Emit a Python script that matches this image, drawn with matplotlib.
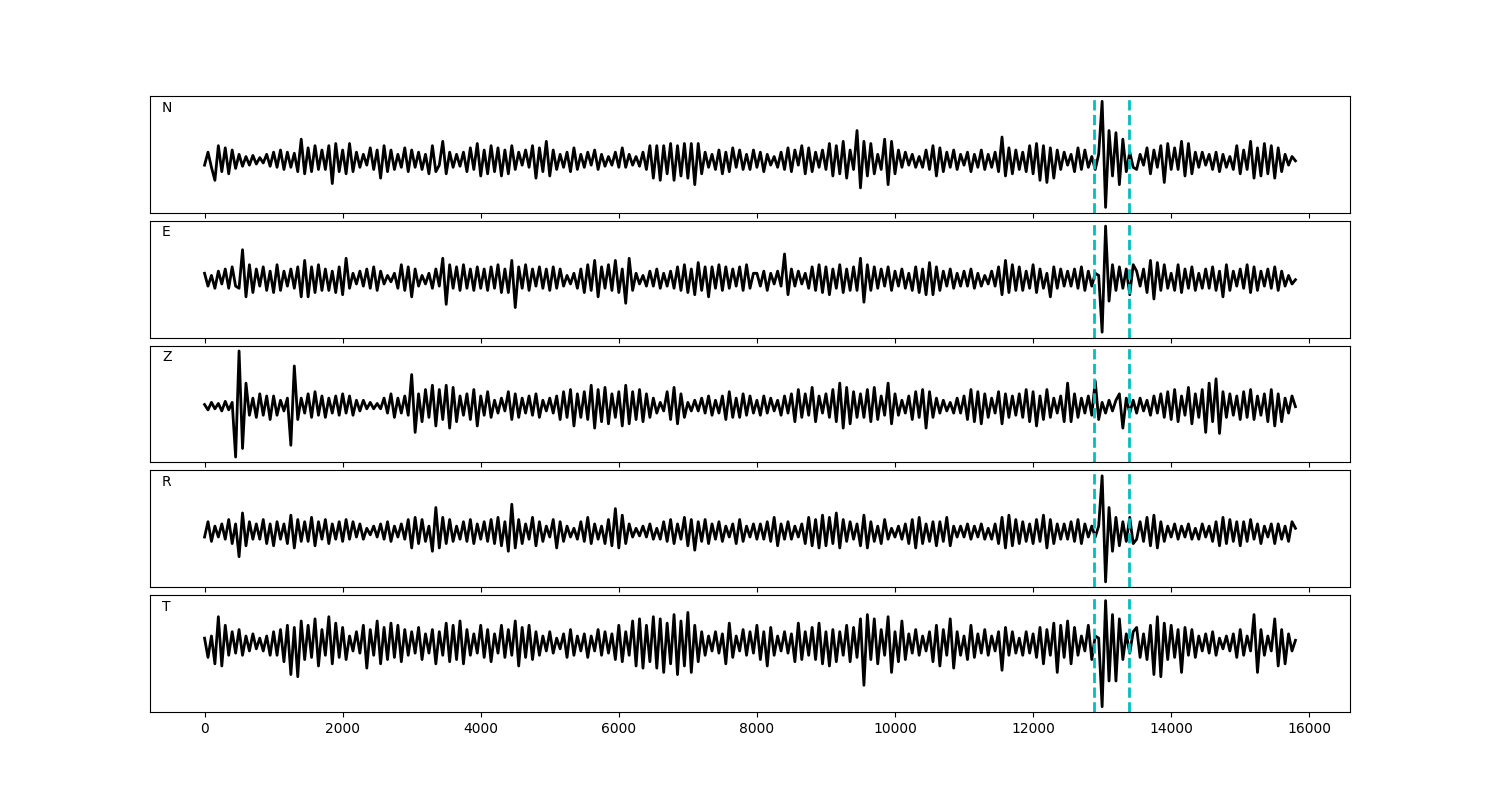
import numpy as np
import matplotlib
matplotlib.use("Agg")
import matplotlib.pyplot as plt

# sample spacing of the traces (time units)
dt = 50

component_labels = ["N", "E", "Z", "R", "T"]
window_start = 12880
window_end = 13385

trace_N = [
    -4, 8, -6, -18, 14, -10, 12, -12, 10, -7,
    6, -5, 4, -4, 5, -3, 3, -2, 6, -5,
    8, -6, 10, -8, 8, -6, 7, -10, 20, -12,
    12, -10, 14, -8, 10, -8, 14, -21, 16, -10,
    10, -12, 16, -10, 8, -6, 6, -4, 12, -8,
    10, -16, 14, -10, 10, -8, 6, -6, 12, -10,
    10, -6, 8, -8, 6, -12, 14, -10, -4, 18,
    -12, 8, -6, 6, -5, 8, -10, 12, -8, 16,
    -14, 10, -12, 14, -10, 12, -14, 10, -12, 14,
    -8, 8, -4, 10, -6, 14, -16, 12, -10, 18,
    -14, 10, -8, 6, -6, 8, -10, 12, -8, 6,
    -6, 8, -4, 10, -8, 6, -5, 4, -4, 8,
    -6, 12, -6, 6, -4, 4, -5, 8, -8, 14,
    -16, 14, -18, 14, -12, 16, -18, 14, -14, 16,
    -16, 16, -22, 16, -12, 8, -6, 6, -8, 10,
    -12, 8, -10, 12, -6, 10, -8, 6, -8, 10,
    -6, 8, -10, 6, -4, 4, -6, 8, -8, 12,
    -10, 10, -4, 14, -12, 12, -10, 8, -6, 10,
    -8, 16, -14, 14, -12, 18, -16, 10, -8, 28,
    -25, 18, -14, 16, -12, 6, -8, 20, -22, 18,
    -12, 10, -6, 8, -4, 6, -6, 4, -6, 10,
    -8, 14, -14, 12, -10, 8, -6, 10, -8, 6,
    -4, 8, -10, 6, -6, 10, -8, 6, -6, 8,
    -10, 22, -14, 12, -12, 10, -8, 8, -10, 14,
    -12, 16, -18, 14, -20, 12, -16, 10, -8, 8,
    -4, 6, -10, 12, -8, 10, -6, 4, -8, 6,
    55, -43, 28, -14, 26, -22, 20, -10, 8, -6,
    -8, 6, -4, 12, -12, 10, -6, 14, -20, 16,
    -8, 12, -8, 18, -14, 16, -12, 8, -6, 8,
    -4, 6, -8, 8, -10, 6, -6, 4, -8, 14,
    -12, 10, -8, 18, -16, 12, -14, 16, -12, 14,
    -16, 12, -10, 6, -4, 4, 0,
]

trace_E = [
    6, -6, 4, -8, 8, -4, 10, -8, 12, -6,
    -8, 28, -16, 14, -12, 10, -6, 12, -10, 8,
    -12, 14, -10, 8, -6, 10, -8, 12, -16, 18,
    -16, 12, -12, 14, -10, 10, -10, 8, -12, 12,
    -14, 20, -8, 6, -4, 8, -6, 10, -8, 12,
    -10, 8, -4, 4, -2, 6, -8, 14, -10, 12,
    -16, 10, -6, 4, -4, 6, -8, 10, -6, 20,
    -23, 14, -8, 12, -10, 14, -8, 10, -10, 12,
    -8, 10, -10, 12, -8, 14, -12, 10, -12, 18,
    -26, 12, -8, 14, -10, 10, -6, 12, -8, 10,
    -10, 12, -8, 10, -6, 4, -4, 6, -8, 10,
    -12, 14, -10, 18, -16, 12, -8, 14, -10, 18,
    -12, 10, -22, 20, -10, 6, -4, 4, -6, 8,
    -6, 10, -8, 6, -6, 8, -8, 12, -10, 14,
    -12, 10, -14, 16, -10, 12, -16, 12, -8, 14,
    -10, 12, -8, 10, -6, 12, -10, 14, -8, 6,
    6, -6, 8, -10, 6, -4, 8, -6, 24, -14,
    10, -6, 8, -4, 6, -8, 12, -10, 14, -12,
    12, -14, 10, -8, 14, -12, 10, -10, 12, -10,
    20, -21, 14, -10, 12, -8, 10, -6, 12, -10,
    8, -6, 10, -8, 6, -10, 12, -12, 10, -14,
    16, -14, 12, -10, 8, -6, 10, -8, 6, -6,
    8, -6, 10, -8, 6, -6, 4, -4, 8, -6,
    12, -14, 18, -12, 14, -10, 12, -10, 8, -8,
    14, -12, 10, -8, 6, -16, 12, -8, 10, -6,
    8, -6, 10, -8, 12, -10, 8, -6, 6, 4,
    -49, 50, -20, 14, -10, 12, -8, 10, -14, 14,
    8, -6, 10, -12, 18, -18, 16, -10, 14, -8,
    6, -10, 14, -12, 10, -8, 12, -10, 6, -8,
    10, -8, 12, -10, 8, -16, 14, -10, 8, -6,
    10, -8, 14, -12, 12, -10, 8, -6, 10, -8,
    12, -10, 8, -6, 4, -4, 0,
]

trace_Z = [
    2, -3, 4, -2, 3, -4, 5, -3, 4, -47,
    52, -39, 22, -8, 8, -10, 12, -8, 10, -12,
    10, -8, 6, -4, 8, -36, 38, -12, 8, -6,
    12, -10, 14, -8, 10, -10, 8, -6, 10, -8,
    12, -6, 10, -8, 6, -4, 6, -2, 4, -2,
    3, -2, 8, -6, 12, -10, 8, -6, 10, -8,
    30, -24, 12, -14, 16, -10, 20, -18, 16, -12,
    20, -20, 18, -14, 10, -8, 12, -12, 16, -18,
    10, -8, 14, -10, 6, -6, 8, -4, 14, -12,
    12, -10, 8, -6, 10, -8, 12, -10, 6, -4,
    8, -6, 10, -12, 14, -10, 16, -18, 12, -10,
    14, -12, 20, -20, 16, -14, 18, -16, 12, -10,
    14, -18, 20, -16, 14, -12, 16, -14, 12, -10,
    8, -6, 4, -4, 14, -12, 18, -16, 12, -10,
    4, -4, 6, -4, 8, -6, 10, -8, 6, -6,
    10, -12, 14, -10, 8, -10, 12, -8, 10, -6,
    6, -8, 10, -6, 8, -4, 6, -8, 10, -6,
    12, -14, 16, -10, 12, -8, 18, -14, 10, -6,
    12, -10, 16, -14, 22, -20, 18, -16, 14, -10,
    12, -10, 16, -14, 18, -12, 10, -8, 22, -16,
    12, -8, 6, -6, 10, -12, 14, -10, 16, -20,
    14, -10, 8, -6, 6, -4, 4, -6, 8, -6,
    10, -12, 16, -14, 14, -16, 12, -10, 8, -6,
    14, -16, 12, -10, 10, -8, 12, -10, 16, -14,
    14, -18, 10, -12, 16, -10, 8, -6, 10, -14,
    22, -14, 12, -10, 8, -6, 10, -8, 24, -12,
    4, -6, 6, -4, 6, 12, -20, 8, -6, 6,
    -6, 8, -4, 6, -8, 10, -6, 12, -10, 14,
    -12, 16, -14, 10, -8, 18, -16, 12, -10, 16,
    -24, 22, -14, 26, -25, 14, -10, 12, -8, 10,
    -12, 14, -10, 16, -12, 10, -8, 12, -14, 16,
    -18, 12, -14, 8, -6, 10, 0,
]

trace_R = [
    -4, 10, -8, 6, -4, 8, -6, 12, -10, 8,
    -22, 18, -12, 10, -6, 8, -6, 12, -10, 8,
    -12, 10, -6, 8, -10, 16, -14, 12, -8, 10,
    -8, 14, -12, 10, -6, 12, -10, 8, -6, 10,
    -8, 12, -6, 10, -4, 8, -6, 4, -2, 6,
    -4, 8, -6, 10, -8, 6, -4, 8, -6, 12,
    -14, 14, -10, 12, -8, 6, -17, 23, -14, 14,
    -10, 12, -8, 6, -6, 10, -8, 12, -10, 8,
    -6, 10, -8, 12, -10, 14, -12, 10, -17, 26,
    -14, 12, -10, 8, -6, 14, -12, 10, -8, 6,
    -4, 12, -14, 10, -8, 6, -4, 4, -6, 10,
    -8, 14, -10, 8, -6, 6, -10, 12, -12, 22,
    -14, 16, -10, 8, -4, 4, -3, 6, -4, 8,
    -6, 4, -6, 10, -8, 12, -10, 8, -6, 14,
    -12, 12, -16, 10, -8, 12, -10, 8, -6, 10,
    -8, 6, -4, 8, -10, 12, -8, 6, -4, 8,
    -6, 8, -6, 10, -8, 14, -12, 8, -6, 10,
    -6, 6, -4, 8, -10, 14, -12, 12, -14, 16,
    -12, 14, -10, 18, -14, 12, -8, 10, -6, 8,
    -12, 16, -14, 10, -8, 6, -10, 12, -6, 4,
    -4, 6, -6, 8, -10, 12, -14, 14, -10, 8,
    -8, 10, -12, 10, -8, 14, -12, 6, -4, 6,
    -4, 8, -6, 6, -4, 8, -6, 4, -6, 8,
    -10, 14, -14, 16, -12, 12, -10, 10, -8, 8,
    -10, 12, -8, 16, -14, 12, -10, 8, -6, 8,
    -6, 10, -8, 12, -10, 8, -4, 6, -4, 6,
    52, -45, 23, -17, 14, -12, 10, -8, 14, -10,
    -6, 10, -8, 14, -12, 16, -14, 10, -8, 6,
    -4, 8, -6, 6, -4, 8, -6, 4, -6, 8,
    -4, 6, -8, 10, -12, 14, -10, 12, -8, 10,
    -12, 10, -8, 12, -6, 8, -10, 6, -4, 8,
    -10, 8, -6, 6, -8, 10, 4,
]

trace_T = [
    6, -12, 8, -18, 26, -20, 18, -10, 12, -8,
    14, -10, 8, -6, 10, -4, 6, -6, 8, -10,
    12, -10, 14, -16, 18, -28, 16, -30, 22, -14,
    18, -12, 24, -20, 14, -10, 26, -18, 20, -12,
    16, -14, 8, -6, 12, -8, 18, -22, 14, -10,
    22, -18, 16, -14, 20, -12, 18, -16, 14, -10,
    12, -8, 16, -14, 10, -8, 14, -18, 12, -10,
    20, -16, 18, -14, 22, -18, 14, -10, 10, -8,
    18, -12, 14, -16, 10, -8, 18, -12, 14, -10,
    22, -20, 16, -12, 18, -14, 12, -10, 8, -6,
    12, -8, 6, -4, 10, -12, 14, -10, 8, -6,
    10, -12, 8, -6, 14, -10, 12, -8, 10, -14,
    18, -16, 12, -10, 22, -20, 24, -22, 18, -16,
    26, -22, 24, -26, 20, -18, 28, -28, 22, -20,
    30, -26, 18, -16, 12, -10, 8, -6, 12, -8,
    10, -18, 20, -12, 8, -6, 14, -10, 12, -8,
    18, -14, 12, -20, 16, -10, 8, -6, 12, -8,
    10, -16, 20, -14, 12, -10, 16, -14, 20, -18,
    12, -20, 14, -16, 12, -10, 18, -16, 16, -12,
    24, -38, 28, -14, 24, -18, 14, -10, 26, -26,
    12, -16, 22, -14, 10, -8, 14, -10, 8, -6,
    12, -16, 18, -20, 14, -10, 24, -22, 12, -10,
    8, -14, 18, -12, 10, -8, 14, -10, 8, -6,
    12, -24, 16, -10, 12, -8, 6, -10, 12, -8,
    10, -12, 16, -18, 14, -10, 20, -26, 18, -12,
    22, -18, 16, -10, 8, -6, 18, -14, 8, 6,
    -58, 41, -34, 28, -34, 24, -14, 10, -8, 12,
    16, -12, 10, -14, 18, -28, 26, -30, 20, -14,
    18, -12, 14, -26, 16, -10, 14, -12, 8, -6,
    10, -8, 12, -10, 6, -4, 8, -6, 10, -12,
    14, -10, 8, -6, 28, -26, 14, -10, 8, -6,
    24, -20, 14, -18, 10, -6, 4,
]

traces = [trace_N, trace_E, trace_Z, trace_R, trace_T]

fig, axes = plt.subplots(5, 1, figsize=(15, 8), dpi=100, sharex=True)
fig.subplots_adjust(left=0.1, right=0.9, top=0.88, bottom=0.11, hspace=0.07)

for ax, label, vals in zip(axes, component_labels, traces):
    t = np.arange(len(vals)) * dt
    ax.plot(t, vals, color="k", linewidth=2)
    ax.axvline(window_start, color="c", linestyle="--", linewidth=2)
    ax.axvline(window_end, color="c", linestyle="--", linewidth=2)
    ax.set_yticks([])
    ax.text(0.01, 0.9, label, transform=ax.transAxes, ha="left", va="center", fontsize=10)

fig.savefig("out.png", dpi=100)
